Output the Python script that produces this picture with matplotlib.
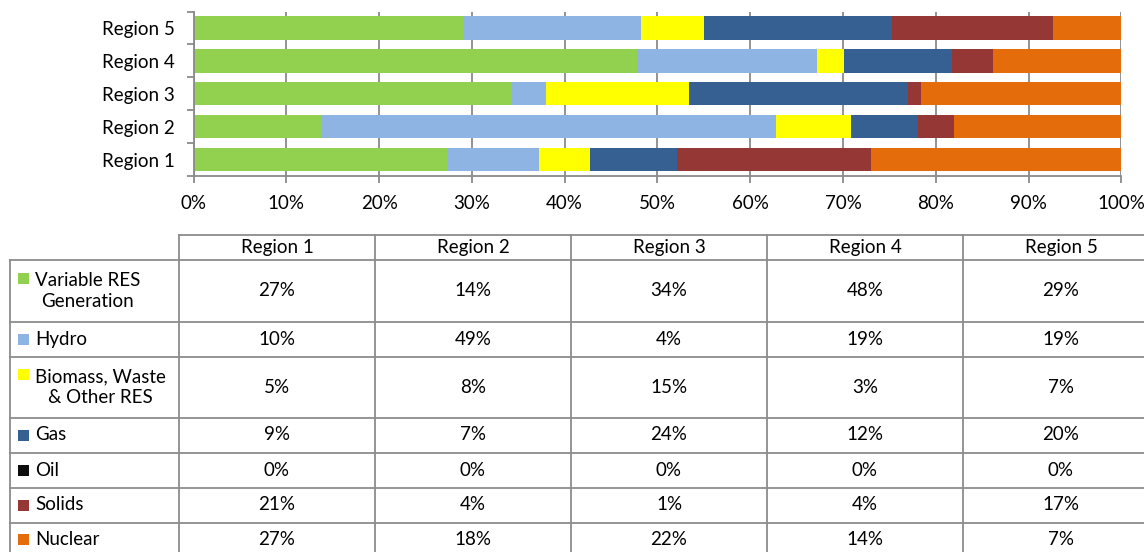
import matplotlib
matplotlib.use("Agg")
import matplotlib.pyplot as plt
import numpy as np

plt.rcParams['font.family'] = ['Lato', 'DejaVu Sans']

regions = ["Region 1", "Region 2", "Region 3", "Region 4", "Region 5"]
series_names = ["Variable RES\nGeneration", "Hydro", "Biomass, Waste\n& Other RES",
                "Gas", "Oil", "Solids", "Nuclear"]
variable_res = [27.4, 13.9, 34.3, 47.8, 29.2]
hydro = [9.8, 48.9, 3.7, 19.4, 19.0]
biomass = [5.49, 8.1, 15.4, 2.9, 6.8]
gas = [9.4, 7.2, 23.6, 11.7, 20.3]
oil = [0.0, 0.0, 0.0, 0.0, 0.0]
solids = [20.8, 3.9, 1.4, 4.4, 17.3]
nuclear = [27.0, 18.0, 21.6, 13.8, 7.4]
colors = ["#92D050", "#8DB4E2", "#FFFF00", "#376092", "#0D0D0D", "#953735", "#E46C0A"]
xtick_labels = ["0%", "10%", "20%", "30%", "40%", "50%", "60%", "70%", "80%", "90%", "100%"]

data = np.array([variable_res, hydro, biomass, gas, oil, solids, nuclear])
totals = data.sum(axis=0)
shares = data / totals

W, H = 1144, 552
fig = plt.figure(figsize=(W / 100, H / 100), dpi=100)

fs = 13.5

# ---- bar chart ----
ax = fig.add_axes([193.5 / W, 1 - 176 / H, (1121.3 - 193.5) / W, (176 - 11.5) / H])
ypos = np.arange(len(regions))
left = np.zeros(len(regions))
for s, c in zip(shares, colors):
    ax.barh(ypos, s, left=left, height=0.71, color=c, edgecolor='none', zorder=2)
    left += s
ax.set_xlim(0, 1)
ax.set_ylim(-0.5, len(regions) - 0.5)
ax.set_xticks(np.linspace(0, 1, 11))
ax.set_xticklabels(xtick_labels, fontsize=fs)
ax.set_yticks(ypos)
ax.set_yticklabels(regions, fontsize=fs)
ax.set_yticks(np.arange(-0.5, len(regions), 1), minor=True)
grid_c = "#8A8A8A"
ax.xaxis.grid(True, color=grid_c, linewidth=1.3, zorder=0)
ax.set_axisbelow(True)
for sp in ['top', 'right']:
    ax.spines[sp].set_visible(False)
for sp in ['left', 'bottom']:
    ax.spines[sp].set_color(grid_c)
    ax.spines[sp].set_linewidth(1.3)
ax.tick_params(axis='x', direction='out', length=5, width=1.3, color=grid_c, pad=9, labelcolor='black')
ax.tick_params(axis='y', which='major', length=0, pad=13.5)
ax.tick_params(axis='y', which='minor', direction='out', length=5, width=1.3, color=grid_c)

# ---- data table ----
tax = fig.add_axes([0, 0, 1, 1])
tax.set_xlim(0, W)
tax.set_ylim(H, 0)
tax.axis('off')

col_left = 10
col_edges = [179, 375, 571, 767, 963, 1159]
row_edges = [235, 260, 321.5, 357, 417.5, 452.5, 487.5, 522.5, 557]
lc = "#8C8C8C"
lw = 1.3

tax.plot([col_edges[0], W + 20], [row_edges[0], row_edges[0]], color=lc, lw=lw)
for x in col_edges:
    tax.plot([x, x], [row_edges[0], row_edges[-1]], color=lc, lw=lw)
tax.plot([col_left, col_left], [row_edges[1], row_edges[-1]], color=lc, lw=lw)
for y in row_edges[1:]:
    tax.plot([col_left, W + 20], [y, y], color=lc, lw=lw)

for j, r in enumerate(regions):
    cx = (col_edges[j] + col_edges[j + 1]) / 2
    tax.text(cx, (row_edges[0] + row_edges[1]) / 2, r, ha='center', va='center', fontsize=fs)

for i, name in enumerate(series_names):
    y0, y1 = row_edges[i + 1], row_edges[i + 2]
    cy = (y0 + y1) / 2
    two = "\n" in name
    first_line_y = cy - 12.5 if two else cy
    tax.add_patch(plt.Rectangle((18, first_line_y - 5.5), 11, 11, color=colors[i], lw=0))
    tax.text(35, cy, name, ha='left', va='center', fontsize=fs, multialignment='center',
             linespacing=1.3)
    for j in range(len(regions)):
        cx = (col_edges[j] + col_edges[j + 1]) / 2
        tax.text(cx, cy, f"{round(data[i, j])}%", ha='center', va='center', fontsize=fs)

fig.savefig("out.png", dpi=100)
